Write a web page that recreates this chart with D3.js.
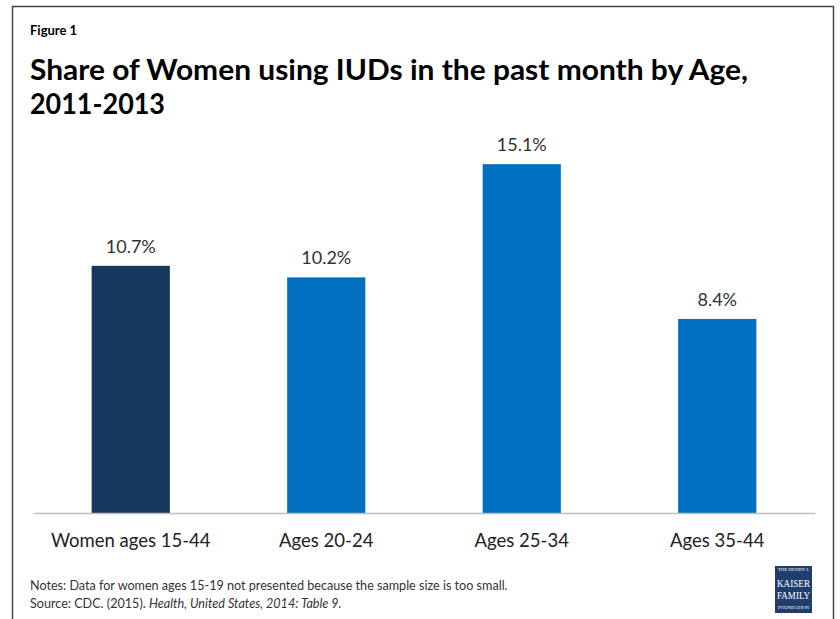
<!DOCTYPE html>
<html><head><meta charset="utf-8">
<script src="https://cdn.jsdelivr.net/npm/d3@7"></script>
<style>body{margin:0;background:#fff}svg{display:block}</style>
</head><body>
<script>
const categories = ["Women ages 15-44","Ages 20-24","Ages 25-34","Ages 35-44"];
const values = [10.7, 10.2, 15.1, 8.4];
const barColors = ["#17365d","#0070c0","#0070c0","#0070c0"];

const W = 840, H = 619;
const svg = d3.select("body").append("svg").attr("width", W).attr("height", H);
const font = "Lato, 'Open Sans', sans-serif";

// frame
svg.append("rect").attr("x",12.5).attr("y",6.5).attr("width",821).attr("height",640)
  .attr("fill","none").attr("stroke","#444").attr("stroke-width",1.5);

svg.append("text").attr("x",30).attr("y",35).attr("font-family",font).attr("font-weight","bold")
  .attr("font-size",13).attr("fill","#000").text("Figure 1");
svg.append("text").attr("x",30).attr("y",80).attr("font-family",font).attr("font-weight","bold")
  .attr("font-size",29).attr("fill","#000").attr("textLength",718).attr("lengthAdjust","spacingAndGlyphs")
  .text("Share of Women using IUDs in the past month by Age,");
svg.append("text").attr("x",30).attr("y",114).attr("font-family",font).attr("font-weight","bold")
  .attr("font-size",28).attr("fill","#000").attr("textLength",135).attr("lengthAdjust","spacingAndGlyphs")
  .text("2011-2013");

const x = d3.scaleBand().domain(categories).range([33,815]).paddingInner(0.6).paddingOuter(0.3);
const y = d3.scaleLinear().domain([0,16]).range([513, 513-16*23.1]);

svg.selectAll("rect.bar").data(values).join("rect").attr("class","bar")
  .attr("x",(d,i)=>x(categories[i])).attr("width",x.bandwidth())
  .attr("y",d=>y(d)).attr("height",d=>y(0)-y(d)).attr("fill",(d,i)=>barColors[i]);

svg.selectAll("text.val").data(values).join("text").attr("class","val")
  .attr("x",(d,i)=>x(categories[i])+x.bandwidth()/2).attr("y",d=>y(d)-13)
  .attr("text-anchor","middle").attr("font-family",font).attr("font-size",18).attr("fill","#333")
  .text(d=>d.toFixed(1)+"%");

const ax = svg.append("g").attr("transform","translate(0,513)")
  .call(d3.axisBottom(x).tickSize(0).tickPadding(0));
ax.select(".domain").attr("stroke","#bfbfbf").attr("stroke-width",1.5);
ax.selectAll(".tick text").attr("font-family",font).attr("font-size",18.5).attr("fill","#222")
  .attr("dy",0).attr("y",34);

svg.append("text").attr("x",30).attr("y",590).attr("font-family",font).attr("font-size",12.6)
  .attr("fill","#333").text("Notes: Data for women ages 15-19 not presented because the sample size is too small.");
const src = svg.append("text").attr("x",30).attr("y",608).attr("font-family",font).attr("font-size",12.6).attr("fill","#333");
src.append("tspan").text("Source: CDC. (2015). ");
src.append("tspan").attr("font-style","italic").text("Health, United States, 2014: Table 9.");

// logo
const lg = svg.append("g").attr("transform","translate(775,566)");
lg.append("rect").attr("width",37).attr("height",47).attr("fill","#1f3e6e");
const lt = [["THE HENRY J.",5,4.5],["KAISER",21,10],["FAMILY",33,10],["FOUNDATION",43,4.5]];
lg.selectAll("text").data(lt).join("text").attr("x",18.5).attr("y",d=>d[1]).attr("text-anchor","middle")
  .attr("font-family","'Liberation Serif', serif").attr("font-size",d=>d[2]).attr("fill","#fff")
  .attr("textLength",d=>d[2]>6?33:31).attr("lengthAdjust","spacingAndGlyphs").text(d=>d[0]);
</script>
</body></html>
